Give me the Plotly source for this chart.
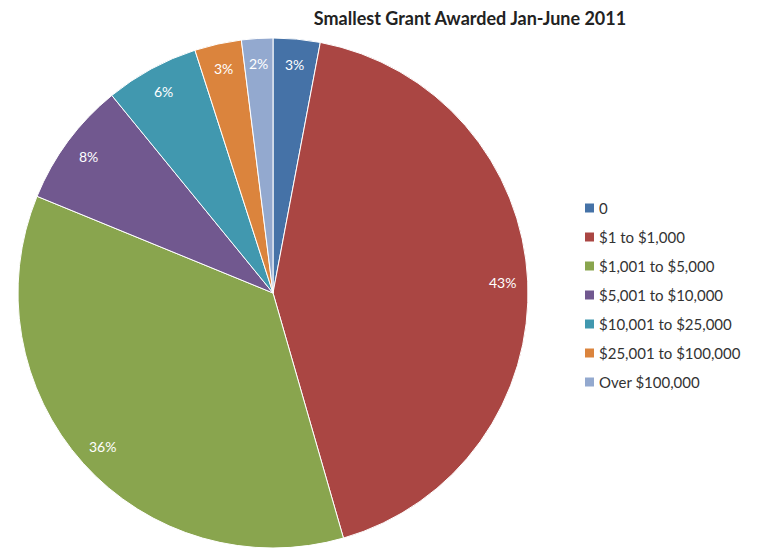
import math
import plotly.graph_objects as go

# Grant size bands and share of organisations (percent)
categories = ["0", "$1 to $1,000", "$1,001 to $5,000", "$5,001 to $10,000",
              "$10,001 to $25,000", "$25,001 to $100,000", "Over $100,000"]
shares = [3, 43, 36, 8, 6, 3, 2]
colors = ["#4572A7", "#AA4643", "#89A54E", "#71588F", "#4198AF", "#DB843D", "#93A9CF"]
title_text = "Smallest Grant Awarded Jan-June 2011"

W, H = 763, 548
# pie placement in pixels
cx_px, cy_px, r_px = 273, 293, 255

fig = go.Figure(go.Pie(
    labels=categories,
    values=shares,
    sort=False,
    direction="clockwise",
    rotation=0,
    marker=dict(colors=colors, line=dict(color="white", width=1)),
    textinfo="none",
    hoverinfo="label+percent",
    showlegend=False,
    domain=dict(x=[(cx_px - r_px) / W, (cx_px + r_px) / W],
                y=[1 - (cy_px + r_px) / H, 1 - (cy_px - r_px) / H]),
))

annotations = []
shapes = []

# percentage labels placed near the outer edge of each slice
total = sum(shares)
cum = 0
for v in shares:
    theta = math.radians(360 * (cum + v / 2) / total)
    cum += v
    rl = r_px * 0.9
    px = cx_px + rl * math.sin(theta)
    py = cy_px - rl * math.cos(theta)
    annotations.append(dict(
        x=px / W, y=1 - py / H, xref="paper", yref="paper",
        text=f"{v}%", showarrow=False,
        font=dict(family="Lato", size=14, color="white"),
        xanchor="center", yanchor="middle",
    ))

# legend drawn as square swatches with labels
leg_x, leg_y0, leg_dy, sw = 585, 208, 29, 9
for i, (lab, col) in enumerate(zip(categories, colors)):
    yc = leg_y0 + i * leg_dy
    shapes.append(dict(
        type="rect", xref="paper", yref="paper",
        x0=leg_x / W, x1=(leg_x + sw) / W,
        y0=1 - (yc + sw / 2) / H, y1=1 - (yc - sw / 2) / H,
        fillcolor=col, line=dict(width=0),
    ))
    annotations.append(dict(
        x=(leg_x + sw + 3) / W, y=1 - yc / H, xref="paper", yref="paper",
        text=lab, showarrow=False,
        font=dict(family="Lato", size=15, color="#333333"),
        xanchor="left", yanchor="middle",
    ))

fig.update_layout(
    width=W, height=H,
    margin=dict(l=0, r=0, t=0, b=0),
    paper_bgcolor="white",
    plot_bgcolor="white",
    title=dict(
        text=f"<b>{title_text}</b>",
        x=470 / W, xanchor="center",
        y=1 - 19 / H, yanchor="middle",
        font=dict(family="Lato", size=18, color="#222222"),
    ),
    annotations=annotations,
    shapes=shapes,
)

fig.write_html("out.html")
